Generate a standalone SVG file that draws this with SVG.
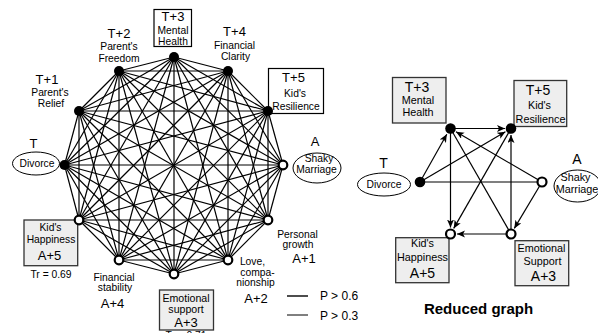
<svg xmlns="http://www.w3.org/2000/svg" width="598" height="333" viewBox="0 0 598 333">
<style>
text{font-family:"Liberation Sans",Arial,sans-serif;fill:#000;text-anchor:middle}
.big{font-size:13px}
.sm{font-size:10.3px}
.rbig{font-size:14px}
.rsm{font-size:10.8px}
.e{stroke:#000;stroke-width:1.2;fill:none}
.a{stroke:#000;stroke-width:1.2;fill:none;marker-end:url(#arr)}
.f{fill:#000}
.o{fill:#fff;stroke:#000;stroke-width:2.2}
.wb{fill:#fff;stroke:#000;stroke-width:1.2}
.gb{fill:#eeeeee;stroke:#333;stroke-width:1.3}
.el{fill:#fff;stroke:#000;stroke-width:1}
</style>
<defs>
<marker id="arr" markerUnits="userSpaceOnUse" markerWidth="9" markerHeight="8" refX="8" refY="3.5" orient="auto">
<path d="M0,0 L8,3.5 L0,7 L2,3.5 z" fill="#000"/>
</marker>
</defs>
<rect width="598" height="333" fill="#fff"/>
<g id="connectors-full">
<line class="e" x1="174" y1="57" x2="228" y2="71"/>
<line class="e" x1="174" y1="57" x2="268" y2="111"/>
<line class="e" x1="174" y1="57" x2="283" y2="165"/>
<line class="e" x1="174" y1="57" x2="268" y2="220"/>
<line class="e" x1="174" y1="57" x2="228" y2="260"/>
<line class="e" x1="174" y1="57" x2="174" y2="274"/>
<line class="e" x1="174" y1="57" x2="119" y2="260"/>
<line class="e" x1="174" y1="57" x2="79" y2="220"/>
<line class="e" x1="174" y1="57" x2="64.5" y2="165"/>
<line class="e" x1="174" y1="57" x2="79" y2="111"/>
<line class="e" x1="174" y1="57" x2="119" y2="71"/>
<line class="e" x1="228" y1="71" x2="268" y2="111"/>
<line class="e" x1="228" y1="71" x2="283" y2="165"/>
<line class="e" x1="228" y1="71" x2="268" y2="220"/>
<line class="e" x1="228" y1="71" x2="228" y2="260"/>
<line class="e" x1="228" y1="71" x2="174" y2="274"/>
<line class="e" x1="228" y1="71" x2="119" y2="260"/>
<line class="e" x1="228" y1="71" x2="79" y2="220"/>
<line class="e" x1="228" y1="71" x2="64.5" y2="165"/>
<line class="e" x1="228" y1="71" x2="79" y2="111"/>
<line class="e" x1="228" y1="71" x2="119" y2="71"/>
<line class="e" x1="268" y1="111" x2="283" y2="165"/>
<line class="e" x1="268" y1="111" x2="268" y2="220"/>
<line class="e" x1="268" y1="111" x2="228" y2="260"/>
<line class="e" x1="268" y1="111" x2="174" y2="274"/>
<line class="e" x1="268" y1="111" x2="119" y2="260"/>
<line class="e" x1="268" y1="111" x2="79" y2="220"/>
<line class="e" x1="268" y1="111" x2="64.5" y2="165"/>
<line class="e" x1="268" y1="111" x2="79" y2="111"/>
<line class="e" x1="268" y1="111" x2="119" y2="71"/>
<line class="e" x1="283" y1="165" x2="268" y2="220"/>
<line class="e" x1="283" y1="165" x2="228" y2="260"/>
<line class="e" x1="283" y1="165" x2="174" y2="274"/>
<line class="e" x1="283" y1="165" x2="119" y2="260"/>
<line class="e" x1="283" y1="165" x2="79" y2="220"/>
<line class="e" x1="283" y1="165" x2="64.5" y2="165"/>
<line class="e" x1="283" y1="165" x2="79" y2="111"/>
<line class="e" x1="283" y1="165" x2="119" y2="71"/>
<line class="e" x1="268" y1="220" x2="228" y2="260"/>
<line class="e" x1="268" y1="220" x2="174" y2="274"/>
<line class="e" x1="268" y1="220" x2="119" y2="260"/>
<line class="e" x1="268" y1="220" x2="79" y2="220"/>
<line class="e" x1="268" y1="220" x2="64.5" y2="165"/>
<line class="e" x1="268" y1="220" x2="79" y2="111"/>
<line class="e" x1="268" y1="220" x2="119" y2="71"/>
<line class="e" x1="228" y1="260" x2="174" y2="274"/>
<line class="e" x1="228" y1="260" x2="119" y2="260"/>
<line class="e" x1="228" y1="260" x2="79" y2="220"/>
<line class="e" x1="228" y1="260" x2="64.5" y2="165"/>
<line class="e" x1="228" y1="260" x2="79" y2="111"/>
<line class="e" x1="228" y1="260" x2="119" y2="71"/>
<line class="e" x1="174" y1="274" x2="119" y2="260"/>
<line class="e" x1="174" y1="274" x2="79" y2="220"/>
<line class="e" x1="174" y1="274" x2="64.5" y2="165"/>
<line class="e" x1="174" y1="274" x2="79" y2="111"/>
<line class="e" x1="174" y1="274" x2="119" y2="71"/>
<line class="e" x1="119" y1="260" x2="79" y2="220"/>
<line class="e" x1="119" y1="260" x2="64.5" y2="165"/>
<line class="e" x1="119" y1="260" x2="79" y2="111"/>
<line class="e" x1="119" y1="260" x2="119" y2="71"/>
<line class="e" x1="79" y1="220" x2="64.5" y2="165"/>
<line class="e" x1="79" y1="220" x2="79" y2="111"/>
<line class="e" x1="79" y1="220" x2="119" y2="71"/>
<line class="e" x1="64.5" y1="165" x2="79" y2="111"/>
<line class="e" x1="64.5" y1="165" x2="119" y2="71"/>
<line class="e" x1="79" y1="111" x2="119" y2="71"/>
</g>
<g id="connectors-reduced">
<line class="a" x1="450.5" y1="128.5" x2="505" y2="128.5"/>
<line class="a" x1="420" y1="182" x2="446.8" y2="134.2"/>
<line class="a" x1="420" y1="182" x2="505.4" y2="131.8"/>
<line class="e" x1="420" y1="182" x2="542" y2="182"/>
<line class="a" x1="542" y1="182" x2="456" y2="131.8"/>
<line class="a" x1="542" y1="182" x2="514.3" y2="228.4"/>
<line class="a" x1="450.5" y1="128.5" x2="450.5" y2="227.5"/>
<line class="e" x1="450.5" y1="128.5" x2="511" y2="234"/>
<line class="a" x1="511" y1="128.5" x2="453.7" y2="228.4"/>
<line class="a" x1="511" y1="234" x2="511" y2="135"/>
<line class="a" x1="511" y1="234" x2="457" y2="234"/>
</g>
<g id="legend">
<line x1="287" y1="296" x2="308" y2="296" stroke="#000" stroke-width="1.4"/>
<text x="320" y="300" style="text-anchor:start;font-size:12px">P &gt; 0.6</text>
<line x1="287" y1="315" x2="308" y2="315" stroke="#000" stroke-width="1"/>
<text x="320" y="319.5" style="text-anchor:start;font-size:12px">P &gt; 0.3</text>
</g>
<g id="n-t3">
<rect class="wb" x="154" y="9.5" width="37.5" height="37"/>
<text class="big" x="173" y="21">T+3</text>
<text class="sm" x="173" y="34">Mental</text>
<text class="sm" x="173" y="45">Health</text>
<circle class="f" cx="174" cy="57" r="5"/>
</g>
<g id="n-t4">
<text class="big" x="234.5" y="36">T+4</text>
<text class="sm" x="234.5" y="49">Financial</text>
<text class="sm" x="235.5" y="59.5">Clarity</text>
<circle class="f" cx="228" cy="71" r="5"/>
</g>
<g id="n-t5">
<rect class="wb" x="268.5" y="68.5" width="55" height="45"/>
<text class="big" x="293.5" y="82">T+5</text>
<text class="sm" x="295" y="96.5">Kid's</text>
<text class="sm" x="296" y="110">Resilience</text>
<circle class="f" cx="268" cy="111" r="5"/>
</g>
<g id="n-a">
<text class="big" x="315" y="145.5">A</text>
<ellipse class="el" cx="317" cy="168" rx="24" ry="15"/>
<text class="sm" x="319" y="162">Shaky</text>
<text class="sm" x="316.5" y="173">Marriage</text>
<circle class="o" cx="283" cy="165" r="4.3"/>
</g>
<g id="n-a1">
<text class="sm" x="297.5" y="238">Personal</text>
<text class="sm" x="298" y="247.5">growth</text>
<text class="big" x="304" y="263">A+1</text>
<circle class="o" cx="268" cy="220" r="4.3"/>
</g>
<g id="n-a2">
<text class="sm" x="252.5" y="264.5">Love,</text>
<text class="sm" x="257.5" y="275.5">compa-</text>
<text class="sm" x="255.5" y="286">nionship</text>
<text class="big" x="256" y="303">A+2</text>
<circle class="o" cx="228" cy="260" r="4.3"/>
</g>
<g id="n-a3">
<rect class="gb" x="159.5" y="290" width="54" height="40"/>
<text class="sm" x="186" y="301.5" style="font-size:10.6px">Emotional</text>
<text class="sm" x="186" y="313" style="font-size:10.6px">support</text>
<text class="big" x="186" y="327">A+3</text>
<text class="sm" x="186" y="339">Tr = 0.71</text>
<circle class="o" cx="174" cy="274" r="4.3"/>
</g>
<g id="n-a4">
<text class="sm" x="114" y="280.5">Financial</text>
<text class="sm" x="115" y="291">stability</text>
<text class="big" x="112.5" y="308">A+4</text>
<circle class="o" cx="119" cy="260" r="4.3"/>
</g>
<g id="n-a5">
<rect class="gb" x="24" y="220" width="53.7" height="45.7"/>
<text class="sm" x="50.5" y="231">Kid's</text>
<text class="sm" x="51" y="243">Happiness</text>
<text class="big" x="49.5" y="260">A+5</text>
<text class="sm" x="51" y="277.5">Tr = 0.69</text>
<circle class="o" cx="79" cy="220" r="4.3"/>
</g>
<g id="n-t">
<text class="big" x="33.5" y="148">T</text>
<ellipse class="el" cx="36" cy="163.5" rx="23.5" ry="11.5"/>
<text class="sm" x="37" y="167">Divorce</text>
<circle class="f" cx="64.5" cy="165" r="5"/>
</g>
<g id="n-t1">
<text class="big" x="47" y="83.5">T+1</text>
<text class="sm" x="50" y="95.5">Parent's</text>
<text class="sm" x="51" y="107">Relief</text>
<circle class="f" cx="79" cy="111" r="5"/>
</g>
<g id="n-t2">
<text class="big" x="119" y="37.5">T+2</text>
<text class="sm" x="119" y="50">Parent's</text>
<text class="sm" x="119" y="62">Freedom</text>
<circle class="f" cx="119" cy="71" r="5"/>
</g>
<g id="r-t3">
<rect class="gb" x="392.5" y="77.5" width="53.5" height="45.5"/>
<text class="rbig" x="417" y="92">T+3</text>
<text class="rsm" x="418" y="104">Mental</text>
<text class="rsm" x="418" y="115.5">Health</text>
<circle class="f" cx="450.5" cy="128.5" r="5.3"/>
</g>
<g id="r-t5">
<rect class="gb" x="514" y="80.5" width="52.7" height="46"/>
<text class="rbig" x="538" y="95">T+5</text>
<text class="rsm" x="539.5" y="109.3">Kid's</text>
<text class="rsm" x="540.5" y="123">Resilience</text>
<circle class="f" cx="511" cy="128.5" r="5.3"/>
</g>
<g id="r-t">
<text class="rbig" x="383.5" y="167.5">T</text>
<ellipse class="el" cx="384" cy="184.5" rx="26.5" ry="11.5"/>
<text class="sm" x="384" y="187.5">Divorce</text>
<circle class="f" cx="420" cy="182" r="5.3"/>
</g>
<g id="r-a">
<text class="rbig" x="577" y="164">A</text>
<ellipse class="el" cx="577.5" cy="186" rx="23.5" ry="16"/>
<text class="rsm" x="575.5" y="180.5">Shaky</text>
<text class="rsm" x="577" y="192.5">Marriage</text>
<circle class="o" cx="542" cy="182" r="4.5"/>
</g>
<g id="r-a5">
<rect class="gb" x="395.7" y="237.7" width="53.3" height="45"/>
<text class="rsm" x="422.5" y="247.3">Kid's</text>
<text class="rsm" x="422.5" y="260.7">Happiness</text>
<text class="rbig" x="422.5" y="278">A+5</text>
<circle class="o" cx="450.5" cy="234" r="4.5"/>
</g>
<g id="r-a3">
<rect class="gb" x="515" y="240.7" width="53.7" height="45"/>
<text class="rsm" x="541.5" y="251.5">Emotional</text>
<text class="rsm" x="542.5" y="264.5">Support</text>
<text class="rbig" x="543.5" y="280.5">A+3</text>
<circle class="o" cx="511" cy="234" r="4.5"/>
</g>
<text x="478.5" y="314" style="font-size:15px;font-weight:bold">Reduced graph</text>
</svg>
